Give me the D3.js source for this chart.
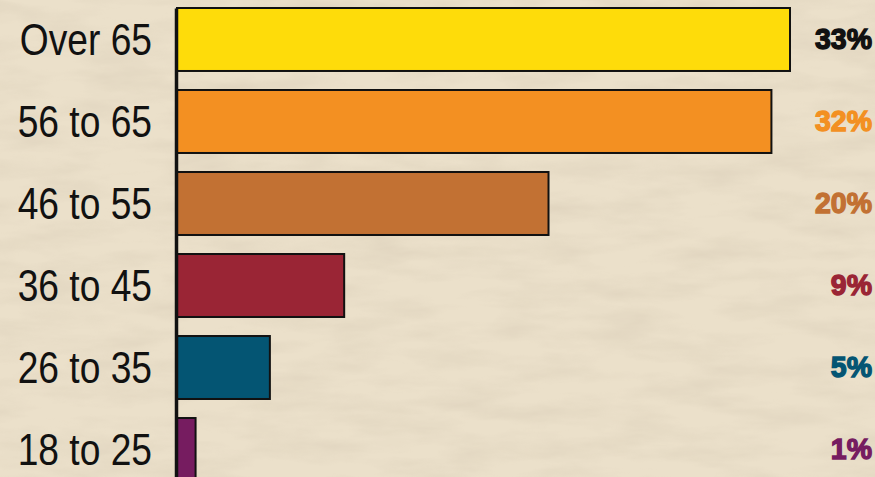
<html lang="en"><head>
<meta http-equiv="Content-Type" content="text/html; charset=UTF-8">
<title>Age groups</title>
<script type="text/javascript" src="https://cdn.jsdelivr.net/npm/d3@7"></script>
<style type="text/css">
body { margin: 0; padding: 0; overflow: hidden; }
</style>
</head>
<body>
<div id="chart"></div>
<script type="text/javascript">

// data
var ageGroups = ["Over 65", "56 to 65", "46 to 55", "36 to 45", "26 to 35", "18 to 25"];
var shares = [33, 32, 20, 9, 5, 1];
var barColors = ["#FEDC0A", "#F39022", "#C27133", "#9A2535", "#045573", "#761C60"];
var labelColors = ["#111111", "#F39022", "#C27133", "#9A2535", "#045573", "#761C60"];

var width = 875;
var height = 477;
var narrow = 0.845; // no condensed font installed, squeeze the labels instead

var svg = d3.select("#chart").append("svg")
        .attr("width", width)
        .attr("height", height);

// parchment background
var defs = svg.append("defs");
var paper = defs.append("filter").attr("id", "paper")
        .attr("x", 0).attr("y", 0).attr("width", "100%").attr("height", "100%");
paper.append("feTurbulence")
        .attr("type", "fractalNoise")
        .attr("baseFrequency", "0.012 0.05")
        .attr("numOctaves", 4)
        .attr("seed", 7);
paper.append("feColorMatrix")
        .attr("type", "matrix")
        .attr("values", "0 0 0 0 0.55  0 0 0 0 0.47  0 0 0 0 0.36  0 0 0 -1.6 1.0");

svg.append("rect")
        .attr("width", width)
        .attr("height", height)
        .attr("fill", "#EBE0CA");
svg.append("rect")
        .attr("width", width)
        .attr("height", height)
        .attr("filter", "url(#paper)")
        .attr("opacity", 0.28);

var x = d3.scaleLinear()
        .domain([0, 33])
        .range([177, 790]);

var y = d3.scaleBand()
        .domain(ageGroups)
        .range([8, 481])
        .paddingInner(0.232)
        .paddingOuter(0);

var data = ageGroups.map(function (g, i) {
  return {group: g, value: shares[i], fill: barColors[i], label: labelColors[i]};
});

svg.selectAll(".bar").data(data).enter().append("rect")
        .attr("class", "bar")
        .attr("x", x(0))
        .attr("y", function (d) { return y(d.group); })
        .attr("width", function (d) { return x(d.value) - x(0); })
        .attr("height", y.bandwidth())
        .attr("fill", function (d) { return d.fill; })
        .attr("stroke", "#111")
        .attr("stroke-width", 2);

var yAxis = svg.append("g")
        .attr("transform", "translate(176,0)")
        .call(d3.axisLeft(y).tickSize(0).tickPadding(24));

yAxis.select(".domain")
        .attr("stroke", "#111")
        .attr("stroke-width", 3.5);

yAxis.selectAll("text")
        .attr("fill", "#111")
        .attr("x", -24 / narrow)
        .attr("dy", "0.35em")
        .attr("transform", "scale(" + narrow + ",1)")
        .style("font-family", "'Liberation Sans', Arial, sans-serif")
        .style("font-size", "44px");

svg.selectAll(".pct").data(data).enter().append("text")
        .attr("class", "pct")
        .attr("transform", function (d) {
          return "translate(872," + (y(d.group) + y.bandwidth() / 2) + ") scale(0.95,1)";
        })
        .attr("dy", "0.33em")
        .attr("text-anchor", "end")
        .attr("fill", function (d) { return d.label; })
        .attr("stroke", function (d) { return d.label; })
        .attr("stroke-width", 1.4)
        .style("font-family", "'Liberation Sans', Arial, sans-serif")
        .style("font-weight", "bold")
        .style("font-size", "30px")
        .text(function (d) { return d.value + "%"; });

</script>
</body></html>
